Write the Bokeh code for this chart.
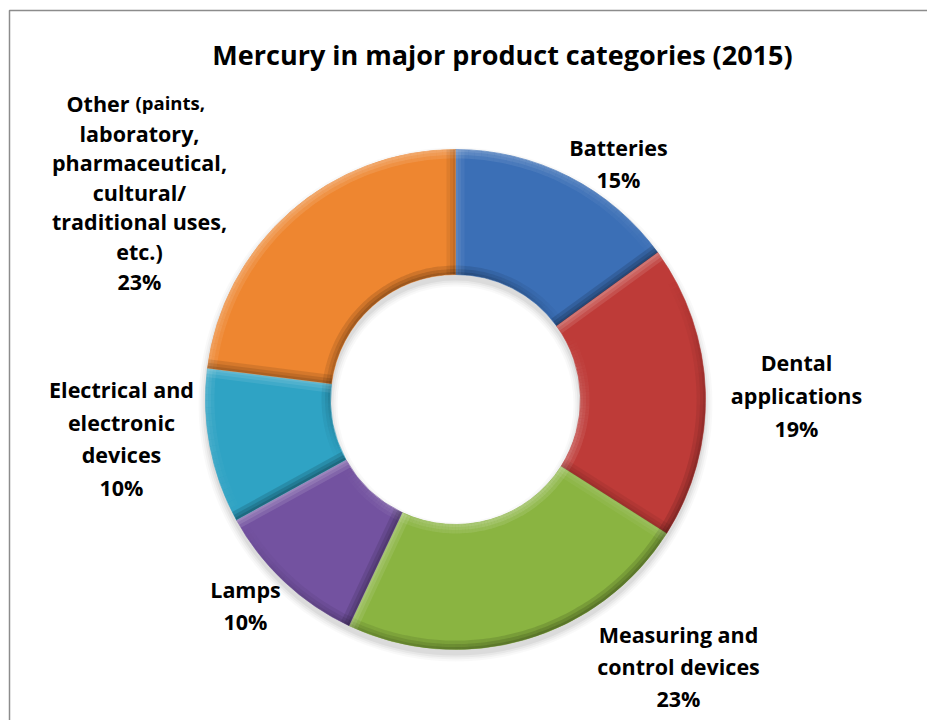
import math
import numpy as np
from bokeh.plotting import figure
from bokeh.models import Range1d, ColumnDataSource
from bokeh.core.properties import value
from bokeh.embed import file_html
from bokeh.resources import INLINE

W, H = 927, 720

# ---- data -------------------------------------------------------------
title = "Mercury in major product categories (2015)"
categories = [
    "Batteries",
    "Dental applications",
    "Measuring and control devices",
    "Lamps",
    "Electrical and electronic devices",
    "Other (paints, laboratory, pharmaceutical, cultural/ traditional uses, etc.)",
]
shares = [15, 19, 23, 10, 10, 23]
colors = ["#3B6FB6", "#BE3B38", "#8AB441", "#7352A0", "#2FA3C4", "#EE8630"]

# how each category name is broken over lines in its label
label_lines = [
    ["Batteries"],
    ["Dental", "applications"],
    ["Measuring and", "control devices"],
    ["Lamps"],
    ["Electrical and", "electronic", "devices"],
    ["Other (paints,", "laboratory,", "pharmaceutical,", "cultural/",
     "traditional uses,", "etc.)"],
]

# ---- layout (screen pixels, y downwards) ------------------------------
CX, CY = 455, 399
R_OUT, R_IN = 250, 125
label_pos = [  # centre x, first line y, line step
    (618, 147, 32),
    (796, 362, 33),
    (678, 634, 32),
    (245, 589, 32),
    (121, 389, 32.7),
    (139, 103, 29.6),
]
FONT = "Open Sans"
LABEL_SIZE = "21.5px"


def sy(py):
    return H - py


p = figure(width=W, height=H, x_range=Range1d(0, W), y_range=Range1d(0, H),
           output_backend="svg", toolbar_location=None, min_border=0)
p.axis.visible = False
p.grid.visible = False
p.outline_line_color = None
p.background_fill_color = "white"
p.border_fill_color = "white"

# chart frame
p.quad(left=[9], right=[W + 20], bottom=[-20], top=[sy(10)],
       fill_color=None, line_color="#8C8C8C", line_width=1.5)

cx, cy = CX, sy(CY)

# soft drop shadow beneath the ring
for d, a in [(7, 0.025), (5, 0.03), (3, 0.04), (1, 0.05)]:
    p.annular_wedge(x=[cx], y=[cy - 5], inner_radius=R_IN - d, outer_radius=R_OUT + d,
                    start_angle=0, end_angle=2 * math.pi,
                    fill_color="black", fill_alpha=a, line_color=None)

# slice angles: clockwise from 12 o'clock
cum = np.concatenate([[0], np.cumsum(shares)])
total = float(cum[-1])
starts = [math.pi / 2 - 2 * math.pi * cum[i + 1] / total for i in range(len(shares))]
ends = [math.pi / 2 - 2 * math.pi * cum[i] / total for i in range(len(shares))]

base = ColumnDataSource(dict(start=starts, end=ends, color=colors))
p.annular_wedge(x=cx, y=cy, inner_radius=R_IN, outer_radius=R_OUT,
                start_angle="start", end_angle="end", direction="anticlock",
                fill_color="color", line_color="color", line_width=0.6, source=base)

# bevel shading: light comes from the upper left
L = np.array([-0.5, 0.86])
L = L / np.linalg.norm(L)
HI, LO = 0.11, 0.13
ov = dict(inner=[], outer=[], start=[], end=[], color=[], alpha=[])


def add_ov(r0, r1, a0, a1, k):
    if abs(k) < 0.02:
        return
    ov["inner"].append(r0)
    ov["outer"].append(r1)
    ov["start"].append(a0)
    ov["end"].append(a1)
    ov["color"].append("white" if k > 0 else "black")
    ov["alpha"].append(min(0.9, (HI if k > 0 else LO) * abs(k)))


STEP = math.radians(1.5)
for a_s, a_e in zip(starts, ends):
    n = max(1, int(math.ceil((a_e - a_s) / STEP)))
    edges = np.linspace(a_s, a_e, n + 1)
    for a0, a1 in zip(edges[:-1], edges[1:]):
        th = 0.5 * (a0 + a1)
        nrm = np.array([math.cos(th), math.sin(th)])
        k_out = float(nrm @ L)
        for w in (9, 5.5, 2.5):
            add_ov(R_OUT - w, R_OUT, a0, a1, k_out)
            add_ov(R_IN, R_IN + w, a0, a1, -k_out)

p.annular_wedge(x=cx, y=cy, inner_radius="inner", outer_radius="outer",
                start_angle="start", end_angle="end", direction="anticlock",
                fill_color="color", fill_alpha="alpha", line_color=None,
                source=ColumnDataSource(ov))

# bevel along the straight (radial) edges of each slice
pxs, pys, pcol, palpha = [], [], [], []
for a_s, a_e in zip(starts, ends):
    for ang, nang in ((a_s, a_s - math.pi / 2), (a_e, a_e + math.pi / 2)):
        u = np.array([math.cos(ang), math.sin(ang)])
        nv = np.array([math.cos(nang), math.sin(nang)])
        k = float(nv @ L)
        if abs(k) < 0.02:
            continue
        for w in (9, 5.5, 2.5):
            p1 = np.array([cx, cy]) + R_IN * u
            p2 = np.array([cx, cy]) + R_OUT * u
            p3 = p2 - w * nv
            p4 = p1 - w * nv
            pxs.append([p1[0], p2[0], p3[0], p4[0]])
            pys.append([p1[1], p2[1], p3[1], p4[1]])
            pcol.append("white" if k > 0 else "black")
            palpha.append(min(0.9, (HI if k > 0 else LO) * abs(k)))
p.patches(xs="xs", ys="ys", fill_color="col", fill_alpha="alpha", line_color=None,
          source=ColumnDataSource(dict(xs=pxs, ys=pys, col=pcol, alpha=palpha)))

# ---- texts ------------------------------------------------------------
p.text(x=[502], y=[sy(54)], text=[title], text_font=value(FONT),
       text_font_style="bold", text_font_size="27px", text_align="center",
       text_baseline="middle", text_color="black")

tx, ty, tt, ts, ta = [], [], [], [], []
for lines, share, (lx, ly, step) in zip(label_lines, shares, label_pos):
    rows = lines + [f"{share}%"]
    for j, row in enumerate(rows):
        yy = sy(ly + j * step)
        if j == 0 and "(" in row:
            # first word at full size, the parenthetical in a smaller run
            head, tail = row.split(" ", 1)
            tx += [lx - 10, lx - 4]
            ty += [yy, yy + 1]
            tt += [head, tail]
            ts += [LABEL_SIZE, "18.5px"]
            ta += ["right", "left"]
        else:
            tx.append(lx)
            ty.append(yy)
            tt.append(row)
            ts.append(LABEL_SIZE)
            ta.append("center")

p.text(x="x", y="y", text="t", text_font_size="s", text_align="a",
       source=ColumnDataSource(dict(x=tx, y=ty, t=tt, s=ts, a=ta)),
       text_font=value(FONT), text_font_style="bold", text_baseline="middle",
       text_color="black")

open("out.html", "w").write(file_html(p, INLINE))
